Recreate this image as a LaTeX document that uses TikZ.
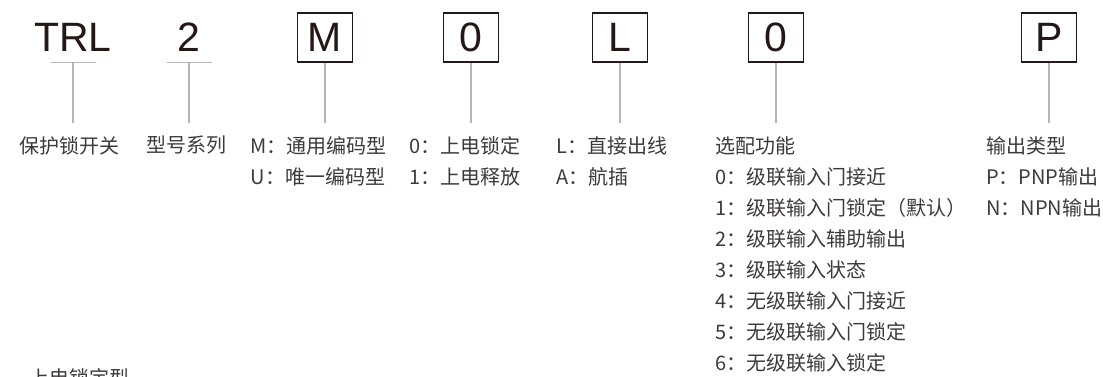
\documentclass[tikz,border=0pt]{standalone}
\usepackage{fontspec}
\newfontfamily\cjkfont{Noto Sans CJK SC}
\newfontfamily\letterfont{Liberation Sans}
\definecolor{ink}{HTML}{231815}
\definecolor{txtgray}{HTML}{3E3A39}
\definecolor{leadgray}{HTML}{B5B5B5}
\begin{document}
\begin{tikzpicture}[
            code/.style={font=\letterfont\fontsize{41}{41}\selectfont, text=ink, inner sep=0, minimum width=55pt, minimum height=49pt},
            codebox/.style={code, draw=ink, line width=1.2pt},
            lbl/.style={font=\cjkfont\fontsize{20}{31}\selectfont, text=txtgray, align=left, anchor=north west, inner xsep=0, inner ysep=13pt},
            lead/.style={draw=leadgray, line width=1.2pt},
        ]
        \useasboundingbox (0pt,0pt) rectangle (1103pt,-376pt);
        % order code
        \node[code] (trl) at (73pt,-37.5pt) {TRL};
        \node[code] (ser) at (189pt,-37.5pt) {2};
        \node[codebox] (enc) at (325pt,-37.5pt) {M};
        \node[codebox] (pwr) at (471pt,-37.5pt) {0};
        \node[codebox] (wire) at (620pt,-37.5pt) {L};
        \node[codebox] (opt) at (776pt,-37.5pt) {0};
        \node[codebox] (out) at (1049pt,-37.5pt) {P};
        % meanings
        \node[lbl] (lTrl) at (19pt,-123pt) {保护锁开关};
        \node[lbl] (lSer) at (146pt,-123pt) {型号系列};
        \node[lbl] (lEnc) at (250.5pt,-123pt) {M：通用编码型\\U：唯一编码型};
        \node[lbl] (lPwr) at (409.5pt,-123pt) {0：上电锁定\\1：上电释放};
        \node[lbl] (lWire) at (556.5pt,-123pt) {L：直接出线\\A：航插};
        \node[lbl] (lOpt) at (715pt,-123pt) {选配功能\\0：级联输入门接近\\1：级联输入门锁定（默认）\\2：级联输入辅助输出\\3：级联输入状态\\4：无级联输入门接近\\5：无级联输入门锁定\\6：无级联输入锁定};
        \node[lbl] (lOut) at (986pt,-123pt) {输出类型\\P：PNP输出\\N：NPN输出};
        \node[lbl] (lType) at (29pt,-355pt) {上电锁定型};
        % leaders
        \draw[lead] ([xshift=-22.5pt]trl.south) -- ([xshift=22.5pt]trl.south);
        \draw[lead] ([xshift=-22.5pt]ser.south) -- ([xshift=22.5pt]ser.south);
        \draw[lead] (trl.south) -- (trl.south |- lTrl.north);
        \draw[lead] (ser.south) -- (ser.south |- lSer.north);
        \draw[lead] (enc.south) -- (enc.south |- lEnc.north);
        \draw[lead] (pwr.south) -- (pwr.south |- lPwr.north);
        \draw[lead] (wire.south) -- (wire.south |- lWire.north);
        \draw[lead] (opt.south) -- (opt.south |- lOpt.north);
        \draw[lead] (out.south) -- (out.south |- lOut.north);
    \end{tikzpicture}
\end{document}
